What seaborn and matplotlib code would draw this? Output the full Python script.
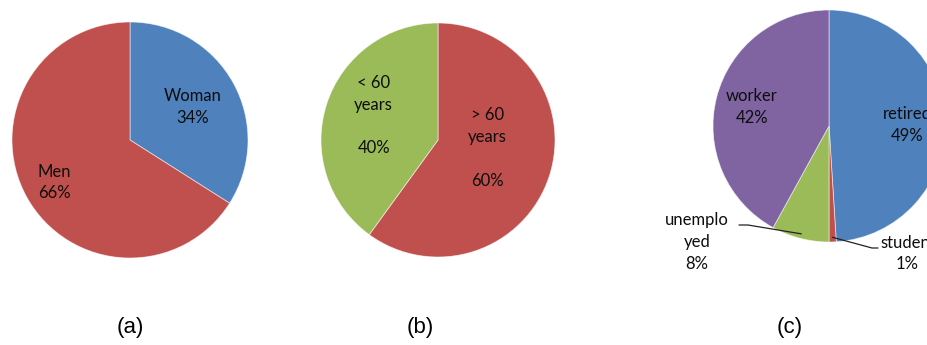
import matplotlib
matplotlib.use("Agg")
import matplotlib.pyplot as plt
import seaborn as sns
import numpy as np

# Survey composition, one pie per panel
gender_labels = ["Woman", "Men"]
gender_values = [34, 66]

age_labels = ["> 60\nyears", "< 60\nyears"]
age_values = [60, 40]

job_labels = ["retired", "student", "unemplo\nyed", "worker"]
job_values = [49, 1, 8, 42]

captions = ["(a)", "(b)", "(c)"]

sns.set_theme(style="white")
plt.rcParams["font.family"] = ["Lato", "DejaVu Sans"]

BLUE, RED, GREEN, PURPLE = "#4F81BD", "#C0504D", "#9BBB59", "#8064A2"

W, H = 928, 345
fig = plt.figure(figsize=(W / 100, H / 100), dpi=100)
fig.patch.set_facecolor("white")


def pie_axes(cx, cy, r):
    """Square axes centred on pixel (cx, cy) spanning a circle of radius r."""
    ax = fig.add_axes([(cx - r) / W, 1 - (cy + r) / H, 2 * r / W, 2 * r / H])
    ax.axis("off")
    return ax


def draw_pie(ax, values, colors):
    wedges, _ = ax.pie(values, colors=colors, startangle=90, counterclock=False,
                       radius=1, center=(0, 0),
                       wedgeprops=dict(edgecolor=(1, 1, 1, 0.6), linewidth=0.6))
    for w in wedges:
        w.set_clip_on(False)
    # pie() pads the limits; make the unit circle fill the axes
    ax.set_xlim(-1, 1)
    ax.set_ylim(-1, 1)
    ax.set_aspect("auto")
    return wedges


FS = 12
TXT = "#0d0d0d"
label_kw = dict(ha="center", va="center", fontsize=FS, color=TXT,
                linespacing=1.45)

# (a) gender
ax_a = pie_axes(130, 140, 118)
draw_pie(ax_a, gender_values, [BLUE, RED])
ax_a.text(0.53, 0.28, f"{gender_labels[0]}\n{gender_values[0]}%", **label_kw)
ax_a.text(-0.64, -0.36, f"{gender_labels[1]}\n{gender_values[1]}%", **label_kw)

# (b) age
ax_b = pie_axes(438, 140, 117)
draw_pie(ax_b, age_values, [RED, GREEN])
ax_b.text(0.42, -0.07, f"{age_labels[0]}\n\n{age_values[0]}%", **label_kw)
ax_b.text(-0.55, 0.21, f"{age_labels[1]}\n\n{age_values[1]}%", **label_kw)

# (c) occupation
cx_c, cy_c, r_c = 829, 126, 116
ax_c = pie_axes(cx_c, cy_c, r_c)
wedges_c = draw_pie(ax_c, job_values, [BLUE, RED, GREEN, PURPLE])


def px(x, y):
    return ((x - cx_c) / r_c, (cy_c - y) / r_c)


# the right edge of this panel runs past the figure border
t = ax_c.text(*px(907, 125), f"{job_labels[0]}\n{job_values[0]}%", **label_kw)
t.set_clip_on(False)
ax_c.text(*px(752, 107), f"{job_labels[3]}\n{job_values[3]}%", **label_kw)


# small slices get leader lines from the rim
def rim_point(w, r=0.96):
    a = np.deg2rad((w.theta1 + w.theta2) / 2)
    return r * np.cos(a), r * np.sin(a)


sx, sy = rim_point(wedges_c[1])
ex, ey = px(872, 248)
fx, fy = px(878, 248)
ax_c.plot([sx, ex, fx], [sy, ey, fy], color="#222222", lw=0.9, clip_on=False)
t = ax_c.text(*px(880, 243), job_labels[1], ha="left", va="center", fontsize=FS,
              color=TXT)
t.set_clip_on(False)
ax_c.text(*px(907, 264), f"{job_values[1]}%", **label_kw)

ux, uy = rim_point(wedges_c[2])
ex, ey = px(748, 225)
fx, fy = px(739, 225)
ax_c.plot([ux, ex, fx], [uy, ey, fy], color="#222222", lw=0.9, clip_on=False)
ax_c.text(*px(697, 242), f"{job_labels[2]}\n{job_values[2]}%", **label_kw)

# panel captions
for x, cap in zip([130, 420, 790], captions):
    fig.text(x / W, 1 - 328 / H, cap, ha="center", va="center", fontsize=16,
             family=["Liberation Sans", "DejaVu Sans"], color="black")

fig.savefig("out.png", dpi=100, facecolor="white")
